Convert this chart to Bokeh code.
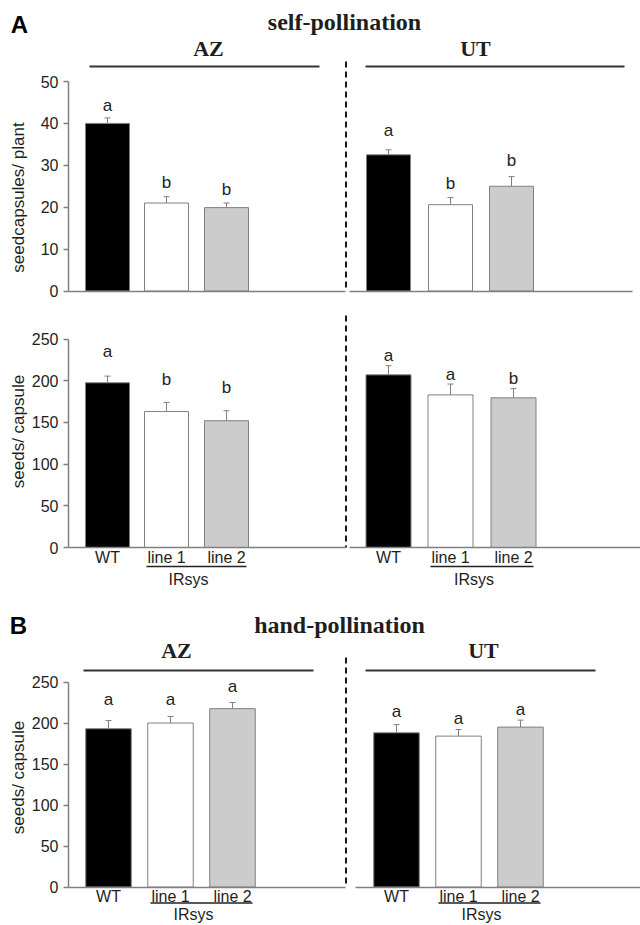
import math
from bokeh.plotting import figure
from bokeh.models import Range1d, LinearAxis, FixedTicker, ColumnDataSource
from bokeh.core.properties import value
from bokeh.embed import file_html
from bokeh.resources import INLINE

# ---------------- data ----------------
GENOTYPES = ["WT", "line 1", "line 2"]
POPULATIONS = ["AZ", "UT"]
TRANSGENIC_LABEL = "IRsys"
PANEL_LETTERS = ["A", "B"]
PANEL_TITLES = ["self-pollination", "hand-pollination"]
Y_LABEL_CAPSULES = "seedcapsules/ plant"
Y_LABEL_SEEDS = "seeds/ capsule"
CAPSULE_TICKS = [0, 10, 20, 30, 40, 50]
SEED_TICKS = [0, 50, 100, 150, 200, 250]

# A, top: self-pollination, seed capsules per plant
SELF_CAPSULES_AZ = [40.0, 21.0, 19.9]
SELF_CAPSULES_AZ_SE = [1.3, 1.5, 1.1]
SELF_CAPSULES_AZ_SIG = ["a", "b", "b"]
SELF_CAPSULES_UT = [32.5, 20.6, 25.0]
SELF_CAPSULES_UT_SE = [1.2, 1.7, 2.3]
SELF_CAPSULES_UT_SIG = ["a", "b", "b"]

# A, bottom: self-pollination, seeds per capsule
SELF_SEEDS_AZ = [197.5, 163.0, 152.0]
SELF_SEEDS_AZ_SE = [8.0, 11.0, 12.0]
SELF_SEEDS_AZ_SIG = ["a", "b", "b"]
SELF_SEEDS_UT = [207.0, 183.0, 179.5]
SELF_SEEDS_UT_SE = [11.0, 13.0, 11.0]
SELF_SEEDS_UT_SIG = ["a", "a", "b"]

# B: hand-pollination, seeds per capsule
HAND_SEEDS_AZ = [193.0, 200.0, 217.5]
HAND_SEEDS_AZ_SE = [10.0, 8.0, 7.5]
HAND_SEEDS_AZ_SIG = ["a", "a", "a"]
HAND_SEEDS_UT = [188.0, 184.0, 195.0]
HAND_SEEDS_UT_SE = [10.0, 8.0, 8.5]
HAND_SEEDS_UT_SIG = ["a", "a", "a"]

# ---------------- layout / style ----------------
W, H = 640, 925
M = 0                      # default coordinates = pixels of the picture
BOTTOM = M + H
FILLS = ["#000000", "#ffffff", "#cccccc"]
BAR_LINE = "#808080"
AXIS_COLOR = "#808080"
INK = "#1e1e1e"
SANS = "Liberation Sans"
SERIF = "Liberation Serif"
AXIS_X = 68
SPLIT_X = 345.5
LETTER_MID = 6             # px between alphabetic baseline and text middle (17px font)

panels = [
    dict(key="self_caps", zero=290.5, top=81.0, ticks=CAPSULE_TICKS, ylab=Y_LABEL_CAPSULES, ylab_y=197,
         labels=False, dash=(61, 291),
         groups=[
             dict(x0=107.0, dx=59.5, w=44, vals=SELF_CAPSULES_AZ, se=SELF_CAPSULES_AZ_SE,
                  sig=SELF_CAPSULES_AZ_SIG, gaps=[6, 8, 8], axis=(AXIS_X, 345)),
             dict(x0=388.0, dx=61.5, w=44, vals=SELF_CAPSULES_UT, se=SELF_CAPSULES_UT_SE,
                  sig=SELF_CAPSULES_UT_SIG, gaps=[13, 8, 10], axis=(349, 632)),
         ]),
    dict(key="self_seeds", zero=547.0, top=338.5, ticks=SEED_TICKS, ylab=Y_LABEL_SEEDS, ylab_y=431,
         labels=True, dash=(315, 547), underline=19, irsys=32,
         groups=[
             dict(x0=107.0, dx=59.5, w=44, vals=SELF_SEEDS_AZ, se=SELF_SEEDS_AZ_SE,
                  sig=SELF_SEEDS_AZ_SIG, gaps=[19, 17, 17.5], axis=(AXIS_X, 345)),
             dict(x0=388.0, dx=62.5, w=45, vals=SELF_SEEDS_UT, se=SELF_SEEDS_UT_SE,
                  sig=SELF_SEEDS_UT_SIG, gaps=[4.5, 4, 4.5], axis=(349, 640)),
         ]),
    dict(key="hand_seeds", zero=886.5, top=681.5, ticks=SEED_TICKS, ylab=Y_LABEL_SEEDS, ylab_y=777,
         labels=True, dash=(657, 887), underline=16, irsys=27,
         groups=[
             dict(x0=108.0, dx=62.0, w=45.5, vals=HAND_SEEDS_AZ, se=HAND_SEEDS_AZ_SE,
                  sig=HAND_SEEDS_AZ_SIG, gaps=[15, 11, 10.5], axis=(AXIS_X, 345)),
             dict(x0=396.0, dx=62.0, w=45.5, vals=HAND_SEEDS_UT, se=HAND_SEEDS_UT_SE,
                  sig=HAND_SEEDS_UT_SIG, gaps=[7, 5.5, 5], axis=(355, 640)),
         ]),
]

headers = [
    dict(letter=PANEL_LETTERS[0], letter_xy=(19, 24), title=PANEL_TITLES[0], title_xy=(344, 21),
         pops=[(208, 48), (475, 48)], line_y=66, lines=[(89, 319), (365, 624)]),
    dict(letter=PANEL_LETTERS[1], letter_xy=(18, 625), title=PANEL_TITLES[1], title_xy=(339, 624),
         pops=[(176, 649.5), (483, 649.5)], line_y=670, lines=[(83, 313), (365, 595)]),
]

p = figure(width=W, height=H, x_range=Range1d(M, M + W), y_range=Range1d(BOTTOM, M),
           x_axis_type=None, y_axis_type=None, toolbar_location=None,
           output_backend="svg", min_border=0, outline_line_color=None)
p.background_fill_color = "white"
p.border_fill_color = "white"

extra = {}
for pn in panels:
    top_val = pn["ticks"][-1]
    k = (pn["zero"] - pn["top"]) / top_val
    pn["k"] = k
    extra[pn["key"]] = Range1d(-(BOTTOM - pn["zero"]) / k, top_val + (pn["top"] - M) / k)
p.extra_y_ranges = extra

# headers
for hd in headers:
    p.text(x=[hd["letter_xy"][0]], y=[hd["letter_xy"][1]], text=[hd["letter"]],
           text_font=value(SANS), text_font_style="bold", text_font_size="24px",
           text_align="center", text_baseline="middle", text_color="#000000")
    p.text(x=[hd["title_xy"][0]], y=[hd["title_xy"][1]], text=[hd["title"]],
           text_font=value(SERIF), text_font_style="bold", text_font_size="24px",
           text_align="center", text_baseline="middle", text_color=INK)
    p.text(x=[xy[0] for xy in hd["pops"]], y=[xy[1] for xy in hd["pops"]], text=POPULATIONS,
           text_font=value(SERIF), text_font_style="bold", text_font_size="22px",
           text_align="center", text_baseline="middle", text_color=INK)
    p.segment(x0=[a for a, b in hd["lines"]], x1=[b for a, b in hd["lines"]],
              y0=[hd["line_y"]] * 2, y1=[hd["line_y"]] * 2, line_color="#333333", line_width=2.2)

for pn in panels:
    key, k = pn["key"], pn["k"]
    # dashed separator
    p.segment(x0=[SPLIT_X], x1=[SPLIT_X], y0=[pn["dash"][0]], y1=[pn["dash"][1]],
              line_color="#1a1a1a", line_width=2, line_dash="6 4")
    # y label
    p.text(x=[18], y=[pn["ylab_y"]], text=[pn["ylab"]], angle=math.pi / 2,
           text_font=value(SANS), text_font_size="17px", text_align="center",
           text_baseline="middle", text_color=INK)
    # y axis
    ya = LinearAxis(y_range_name=key, fixed_location=AXIS_X, bounds=(0, pn["ticks"][-1]),
                    ticker=FixedTicker(ticks=pn["ticks"]))
    ya.axis_line_color = AXIS_COLOR
    ya.axis_line_width = 1.5
    ya.major_tick_line_color = AXIS_COLOR
    ya.major_tick_line_width = 1.5
    ya.major_tick_out = 5
    ya.major_tick_in = 0
    ya.minor_tick_line_color = None
    ya.major_label_standoff = 5
    ya.major_label_text_font = SANS
    ya.major_label_text_font_size = "16px"
    ya.major_label_text_color = INK
    p.add_layout(ya, "left")

    for g in pn["groups"]:
        xs = [int(round(g["x0"] + i * g["dx"])) for i in range(len(g["vals"]))]
        tops = [v + e for v, e in zip(g["vals"], g["se"])]
        src = ColumnDataSource(dict(x=xs, top=g["vals"], fill=FILLS, etop=tops,
                                    cl=[x - 3 for x in xs], cr=[x + 3 for x in xs],
                                    ly=[t + (gap + LETTER_MID) / k for t, gap in zip(tops, g["gaps"])],
                                    sig=g["sig"]))
        p.vbar(x="x", top="top", bottom=0, width=g["w"], source=src, y_range_name=key,
               fill_color="fill", line_color=BAR_LINE, line_width=1)
        p.segment(x0="x", y0="top", x1="x", y1="etop", source=src, y_range_name=key,
                  line_color="#808080", line_width=1)
        p.segment(x0="cl", y0="etop", x1="cr", y1="etop", source=src, y_range_name=key,
                  line_color="#808080", line_width=1)
        p.text(x="x", y="ly", text="sig", source=src, y_range_name=key,
               text_font=value(SANS), text_font_size="17px", text_align="center",
               text_baseline="middle", text_color=INK)
        # x axis (baseline) for this group
        xa = LinearAxis(y_range_name=key, fixed_location=0, bounds=g["axis"],
                        ticker=FixedTicker(ticks=xs if pn["labels"] else []))
        if pn["labels"]:
            xa.major_label_overrides = {x: lab for x, lab in zip(xs, GENOTYPES)}
        xa.axis_line_color = AXIS_COLOR
        xa.axis_line_width = 1.5
        xa.major_tick_line_color = None
        xa.major_tick_out = 0
        xa.major_tick_in = 0
        xa.minor_tick_line_color = None
        xa.major_label_standoff = 1
        xa.major_label_text_font = SANS
        xa.major_label_text_font_size = "16px"
        xa.major_label_text_color = INK
        p.add_layout(xa, "below")
        if pn["labels"]:
            u0, u1 = xs[1] - 20, xs[2] + 20
            uy = -pn["underline"] / k
            p.segment(x0=[u0], x1=[u1], y0=[uy], y1=[uy], y_range_name=key,
                      line_color="#222222", line_width=1.5)
            p.text(x=[(u0 + u1) / 2 - 8], y=[-pn["irsys"] / k], text=[TRANSGENIC_LABEL],
                   y_range_name=key, text_font=value(SANS), text_font_size="16px",
                   text_align="center", text_baseline="middle", text_color=INK)

open("out.html", "w").write(file_html(p, INLINE))
